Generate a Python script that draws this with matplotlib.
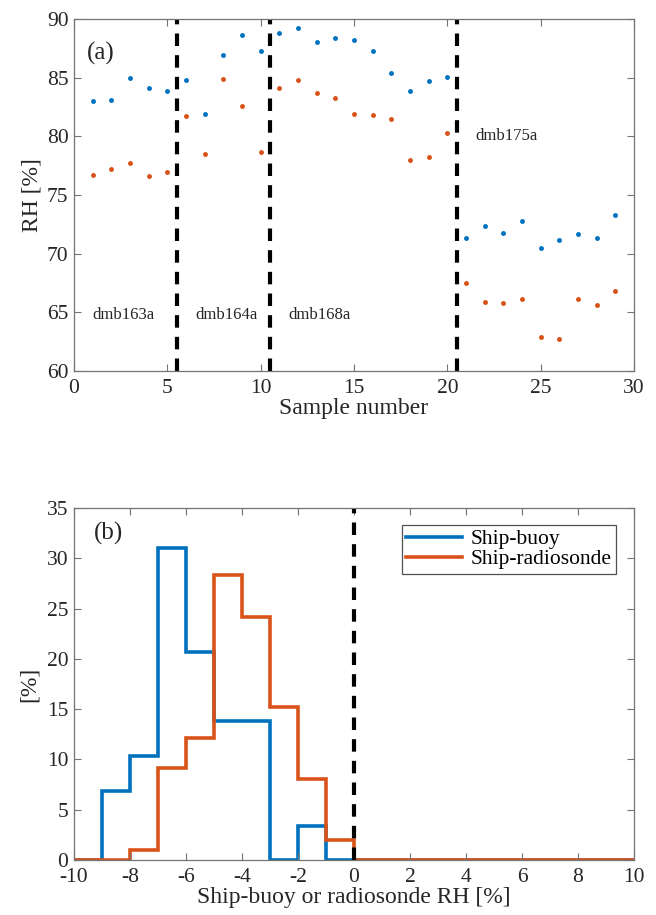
import numpy as np
import matplotlib.pyplot as plt

plt.rcParams['font.family'] = ['Liberation Serif', 'DejaVu Serif']
plt.rcParams['axes.unicode_minus'] = False

# (a) RH per sample
sample = np.arange(1, 30)
rh_blue = [83.0, 83.1, 85.0, 84.1, 83.9, 84.8, 81.9, 86.9, 88.6, 87.3,
           88.8, 89.2, 88.0, 88.4, 88.2, 87.3, 85.4, 83.9, 84.7, 85.1,
           71.3, 72.4, 71.8, 72.8, 70.5, 71.2, 71.7, 71.3, 73.3]
rh_orange = [76.7, 77.2, 77.7, 76.6, 77.0, 81.7, 78.5, 84.9, 82.6, 78.7,
             84.1, 84.8, 83.7, 83.3, 81.9, 81.8, 81.5, 78.0, 78.2, 80.3,
             67.5, 65.9, 65.8, 66.1, 62.9, 62.7, 66.1, 65.6, 66.8]
breaks = [5.5, 10.5, 20.5]
buoy_names = ['dmb163a', 'dmb164a', 'dmb168a', 'dmb175a']
name_x = [1.0, 6.5, 11.5, 21.5]
name_y = [64.8, 64.8, 64.8, 80.0]

# (b) histograms of differences, 1 % bins
edges = np.arange(-10, 11)
ship_buoy = [0, 6.9, 10.3, 31.0, 20.7, 13.8, 13.8, 0, 3.4, 0,
             0, 0, 0, 0, 0, 0, 0, 0, 0, 0]
ship_radiosonde = [0, 0, 1.0, 9.1, 12.1, 28.3, 24.2, 15.2, 8.1, 2.0,
                   0, 0, 0, 0, 0, 0, 0, 0, 0, 0]

blue = '#0072BD'
orange = '#D95319'
axc = '0.45'
txt = '#262626'

fig = plt.figure(figsize=(6.56, 9.15), dpi=100)
ax1 = fig.add_axes([0.1128, 0.5945, 0.8537, 0.3847])
ax2 = fig.add_axes([0.1128, 0.0601, 0.8537, 0.3847])


def style(ax):
    for s in ax.spines.values():
        s.set_color(axc)
        s.set_linewidth(0.9)
    ax.tick_params(direction='in', top=True, right=True, length=5,
                   color=axc, labelsize=15.5, labelcolor=txt)
    ax.tick_params(axis='x', pad=6)
    ax.tick_params(axis='y', pad=4)


ax1.plot(sample, rh_blue, '.', color=blue, ms=5)
ax1.plot(sample, rh_orange, '.', color=orange, ms=5)
for b in breaks:
    ax1.axvline(b, color='k', ls=(0, (3, 2.2)), lw=3)
for nm, xx, yy in zip(buoy_names, name_x, name_y):
    ax1.text(xx, yy, nm, fontsize=12, color=txt, va='center')
ax1.text(0.7, 87.1, '(a)', fontsize=18, color=txt, va='center')
ax1.set_xlim(0, 30)
ax1.set_ylim(60, 90)
ax1.set_xticks(np.arange(0, 31, 5))
ax1.set_yticks(np.arange(60, 91, 5))
ax1.set_xlabel('Sample number', fontsize=17, color=txt, labelpad=0)
ax1.set_ylabel('RH [%]', fontsize=17, color=txt, labelpad=3)
style(ax1)

ax2.stairs(ship_buoy, edges, color=blue, lw=2.6, label='Ship-buoy')
ax2.stairs(ship_radiosonde, edges, color=orange, lw=2.6, label='Ship-radiosonde')
ax2.axvline(0, color='k', ls=(0, (3, 2.2)), lw=3)
ax2.text(-9.3, 32.5, '(b)', fontsize=18, color=txt, va='center')
ax2.set_xlim(-10, 10)
ax2.set_ylim(0, 35)
ax2.set_xticks(np.arange(-10, 11, 2))
ax2.set_yticks(np.arange(0, 36, 5))
ax2.set_xlabel('Ship-buoy or radiosonde RH [%]', fontsize=17, color=txt, labelpad=0)
ax2.set_ylabel('[%]', fontsize=17, color=txt, labelpad=5)
leg = ax2.legend(loc='upper right', bbox_to_anchor=(0.968, 0.952), fontsize=15.5,
                 frameon=True, fancybox=False, edgecolor=txt,
                 handlelength=2.6, borderpad=0.2, labelspacing=0.0,
                 handletextpad=0.4, borderaxespad=0)
leg.get_frame().set_linewidth(0.9)
style(ax2)

fig.savefig('out.png', dpi=100)
